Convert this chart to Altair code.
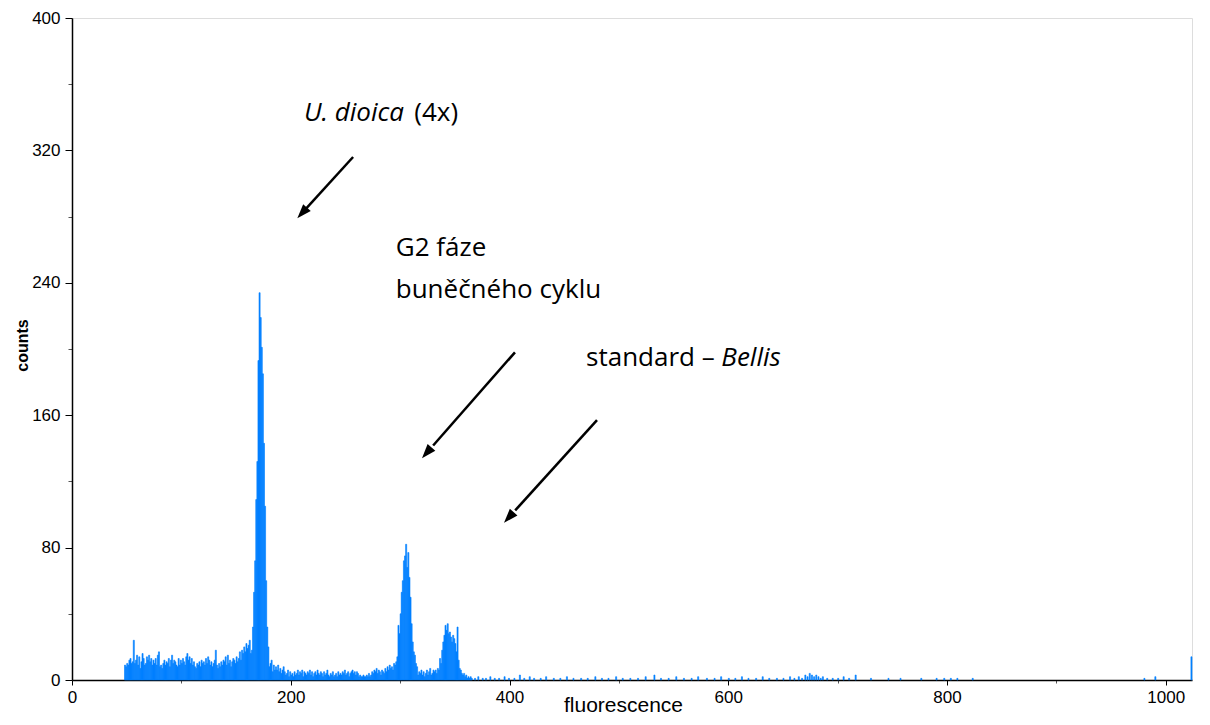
import altair as alt
import pandas as pd
import numpy as np

# ---------------- data ----------------
# counts per channel, channels 48..160 (debris / background region)
noise_counts = [9, 8, 10, 9, 12, 13, 10, 11,
                24,
                10, 12, 15, 9, 14, 7, 11,
                16, 13, 9, 10, 14, 12, 15,
                11, 13, 9, 12, 10, 13, 9,
                15, 17, 8, 9, 7, 10, 12,
                9, 11, 10, 13, 8, 12, 15,
                10, 12, 11, 9, 8, 13, 9,
                12, 10, 13, 11, 9, 14, 16,
                12, 14, 10, 13, 9, 11, 8,
                7, 10, 9, 11, 8, 12, 10,
                11, 9, 13, 10, 14, 12, 9,
                11, 8, 10, 12, 18, 9, 7,
                10, 8, 11, 9, 12, 11, 14,
                9, 15, 10, 12, 8, 11, 13,
                12, 10, 14, 11, 13, 17, 12,
                18, 16, 20, 17, 22, 19]
# channels 161..185 (U. dioica G1 peak)
peak1_counts = [21, 24, 16, 18, 32, 53, 72, 109, 132, 193, 234, 219, 201,
                185, 143, 105, 60, 32, 20, 8, 10, 12, 5, 9, 6]
# channels 186..296
mid_counts = [8, 6, 9, 5, 7, 4, 6, 8, 5, 3,
              4, 6, 2, 5, 3, 4, 2, 5, 3, 4,
              6, 3, 5, 4, 6, 2, 5, 4, 3, 5,
              4, 6, 3, 5, 2, 4, 5, 3, 6, 4,
              3, 5, 4, 2, 5, 3, 4, 6, 3, 2,
              4, 3, 5, 2, 3, 4, 2, 5, 3, 4,
              3, 5, 4, 6, 3, 4, 5, 2, 4, 5,
              6, 4, 5, 3, 5, 4, 2, 3, 2, 2,
              3, 2, 2, 3, 2, 4, 2, 3, 5, 4,
              6, 5, 7, 4, 6, 5, 3, 6, 5, 4,
              7, 5, 8, 6, 9, 7, 8, 6, 10, 9, 11]
# channels 297..365 (G2 peak and Bellis standard peak)
peak2_counts = [14, 33, 28, 40, 53, 60, 72, 75, 82, 68, 77, 62, 50, 34, 23,
                17, 15, 10, 8, 3, 5, 4, 6, 3, 5, 2, 4, 6, 3, 5,
                7, 3, 4, 6, 5, 6, 4, 7, 6, 13, 10, 18, 23, 27, 33,
                30, 34, 28, 29, 26, 23, 27, 25, 22, 17, 32, 12, 7, 6, 4,
                3, 4, 2, 3, 1, 2, 1, 2, 1]
# sparse channels above 365
sparse_channels = [368, 371, 375, 378, 382, 386, 390, 395, 399, 404, 409, 413,
                   418, 422, 428, 433, 440, 446, 452, 458, 465, 471, 478, 484,
                   490, 497, 503, 510, 517, 524, 532, 538, 545, 552, 559, 566,
                   572, 580, 587, 593, 600, 606, 612, 618, 625, 631, 637, 644,
                   650, 656, 660, 664, 667, 670, 672, 674, 676, 678, 680, 682,
                   684, 686, 690, 695, 700, 705, 710, 716, 730, 746, 757, 776,
                   790, 797, 803, 809, 823, 980, 990, 1023]
sparse_counts = [1, 2, 1, 1, 2, 1, 1, 2, 1, 1, 3, 1,
                 2, 1, 1, 2, 1, 1, 2, 1, 1, 1, 2, 1,
                 1, 2, 1, 1, 1, 2, 3, 1, 1, 2, 1, 1,
                 2, 1, 1, 2, 1, 1, 2, 1, 1, 2, 1, 1,
                 1, 2, 1, 2, 1, 3, 2, 4, 3, 2, 3, 2,
                 1, 2, 1, 1, 1, 2, 1, 3, 1, 1, 1, 1,
                 1, 1, 1, 1, 1, 1, 2, 14]

x_ticks = [0, 100, 200, 300, 400, 500, 600, 700, 800, 900, 1000]
y_ticks = [0, 40, 80, 120, 160, 200, 240, 280, 320, 360, 400]

dense = noise_counts + peak1_counts + mid_counts + peak2_counts
channels = list(range(48, 48 + len(dense))) + sparse_channels
counts = dense + sparse_counts
df = pd.DataFrame({"ch": channels, "count": counts})

# annotations (data coordinates)
ann_text = ["U. dioica", "(4x)", "G2 fáze", "buněčného cyklu", "standard –", "Bellis"]
ann_x = [212, 353, 296, 296, 470, 648]
ann_y = [338, 338, 256, 231, 190, 190]
ann_align = ["left", "right", "left", "left", "left", "right"]
ann_style = ["italic", "normal", "normal", "normal", "normal", "italic"]
ann = pd.DataFrame({"t": ann_text, "x": ann_x, "y": ann_y,
                    "al": ann_align, "st": ann_style})

arrow_start_x = [257, 405, 480]
arrow_start_y = [316, 198, 157]
arrow_tip_x = [206, 320, 395]
arrow_tip_y = [279, 134, 95]
arr = pd.DataFrame({"x": arrow_start_x, "y": arrow_start_y,
                    "tx": arrow_tip_x, "ty": arrow_tip_y})
# pixel scale factors for arrow-head angle
px_x = 1120 / 1024
px_y = 662 / 400
dxp = (arr.tx - arr.x) * px_x
dyp = -(arr.ty - arr.y) * px_y
arr["ang"] = (np.degrees(np.arctan2(dxp, -dyp)) + 360) % 360
arr["sx"] = arr.tx + 0.12 * (arr.x - arr.tx)
arr["sy"] = arr.ty + 0.12 * (arr.y - arr.ty)

FONT = "Liberation Sans"
ANN_FONT = "Open Sans"
BLUE = "#0080ff"

xscale = alt.Scale(domain=[0, 1024], nice=False, zero=False)
yscale = alt.Scale(domain=[0, 400], nice=False)

xaxis = alt.Axis(values=x_ticks, title="fluorescence", grid=False, format="d",
                 labelExpr="datum.value % 200 === 0 ? datum.label : ''",
                 tickSize={"condition": {"test": "datum.value % 200 === 0", "value": 5}, "value": 3},
                 tickColor={"condition": {"test": "datum.value % 200 === 0", "value": "#000"}, "value": "#555"},
                 labelFont=FONT, labelFontSize=17, labelColor="#000", labelPadding=4,
                 titleFont=FONT, titleFontSize=21, titleFontWeight="normal", titleColor="#000",
                 titleX=551, titleY=14, titleBaseline="top",
                 domainColor="#000", domainWidth=1.5, labelFlush=False, labelOverlap=False)
yaxis = alt.Axis(values=y_ticks, title="counts", grid=False, format="d",
                 labelExpr="datum.value % 80 === 0 ? datum.label : ''",
                 tickSize={"condition": {"test": "datum.value % 80 === 0", "value": 7}, "value": 4},
                 tickColor={"condition": {"test": "datum.value % 80 === 0", "value": "#000"}, "value": "#555"},
                 labelFont=FONT, labelFontSize=17, labelColor="#000", labelPadding=5,
                 titleFont=FONT, titleFontSize=16, titleFontWeight="bold", titleColor="#000",
                 titleX=-50, titleY=327, titleAngle=270, titleAlign="center", titleBaseline="middle",
                 domainColor="#000", domainWidth=1.5, labelFlush=False, labelOverlap=False)

bars = alt.Chart(df).transform_calculate(ch2="datum.ch + 1").mark_rect(
    color=BLUE, stroke=BLUE, strokeWidth=0.6).encode(
    x=alt.X("ch:Q", scale=xscale, axis=xaxis),
    x2="ch2:Q",
    y=alt.Y("count:Q", scale=yscale, axis=yaxis),
    y2=alt.datum(0),
)

txt_layers = []
for style in ["italic", "normal"]:
    for al in ["left", "right"]:
        sub = ann[(ann.st == style) & (ann.al == al)]
        if len(sub) == 0:
            continue
        txt_layers.append(
            alt.Chart(sub).mark_text(font=ANN_FONT, fontSize=26, fontStyle=style,
                                     align=al, baseline="alphabetic", color="#000").encode(
                x=alt.X("x:Q", scale=xscale), y=alt.Y("y:Q", scale=yscale), text="t:N")
        )

shafts = alt.Chart(arr).mark_rule(color="#000", strokeWidth=2.5).encode(
    x=alt.X("x:Q", scale=xscale), y=alt.Y("y:Q", scale=yscale),
    x2="sx:Q", y2="sy:Q")
heads = alt.Chart(arr).mark_point(shape="M0,0L-0.5,1.4L0.5,1.4Z", filled=True,
                                  color="#000", opacity=1, size=420).encode(
    x=alt.X("tx:Q", scale=xscale), y=alt.Y("ty:Q", scale=yscale),
    angle=alt.Angle("ang:Q", scale=None))

chart = alt.layer(bars, shafts, heads, *txt_layers).properties(
    width=1120, height=662,
    autosize=alt.AutoSizeParams(type="none"),
    padding={"left": 64, "top": 10, "right": 10, "bottom": 37},
).configure_view(stroke="#222", strokeWidth=1.2).configure(background="white")

chart.save("out.html", embed_options={"renderer": "svg", "actions": False})
